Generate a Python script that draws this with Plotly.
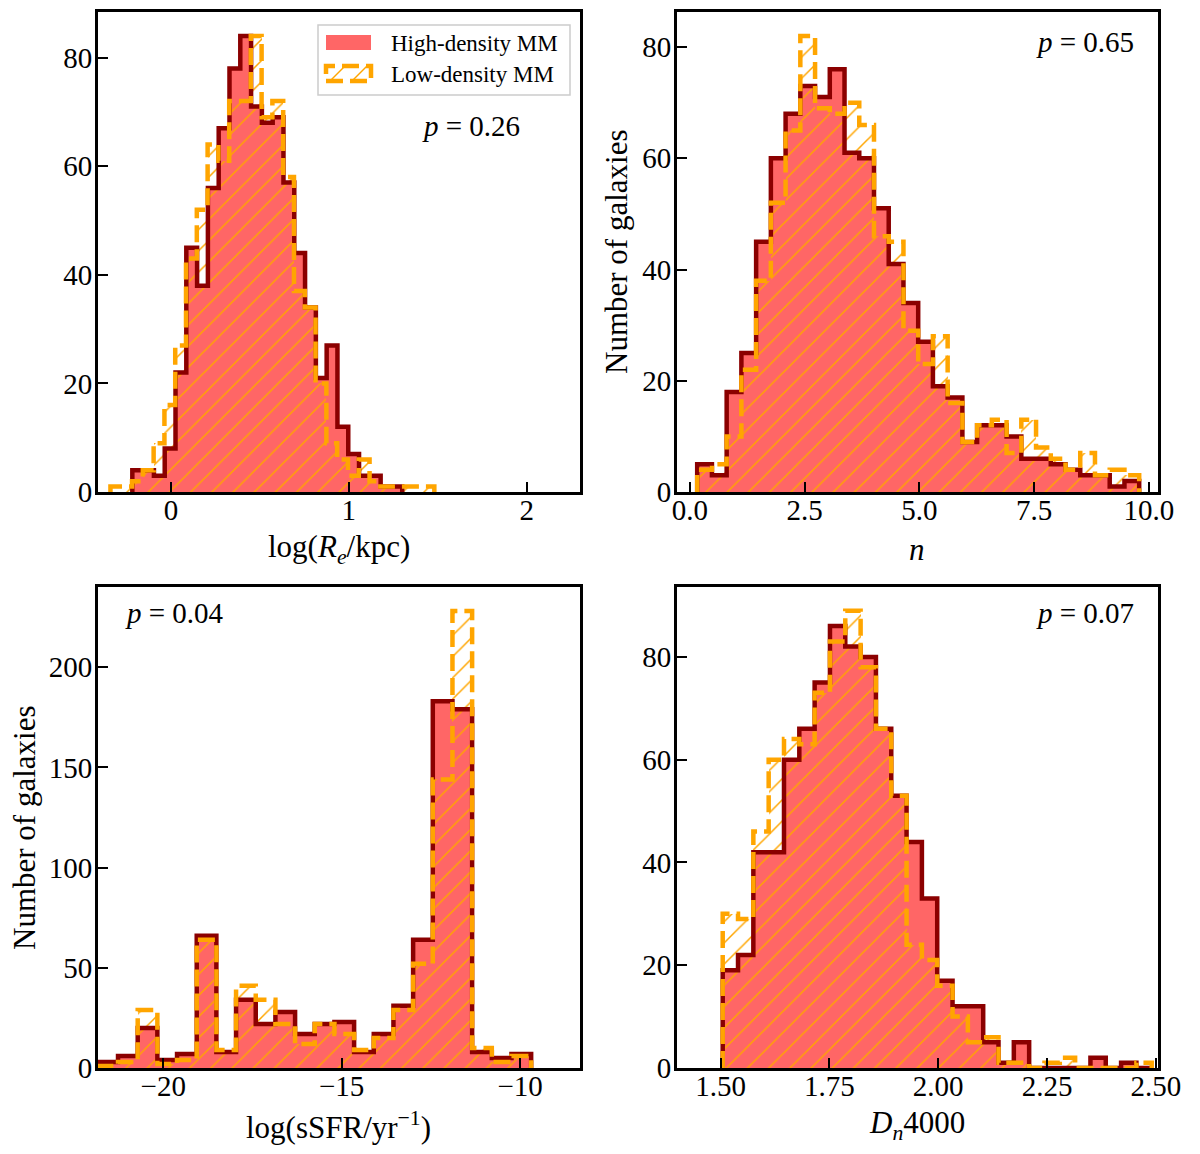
import numpy as np
import plotly.graph_objects as go

# ---------------- data ----------------
# Panel 1: log(Re/kpc)
RE_HIGH_START, RE_HIGH_WIDTH = -0.217, 0.0607
RE_HIGH_COUNTS = [4, 4, 3, 8, 22, 45, 38, 56, 67, 78, 84, 71, 68, 69, 57, 44, 34, 21, 27, 12, 7, 3, 3, 1, 1]
RE_LOW_START, RE_LOW_WIDTH = -0.340, 0.0607
RE_LOW_COUNTS = [1, 1, 2, 4, 9, 16, 27, 43, 52, 64, 61, 72, 72, 84, 69, 72, 58, 37, 34, 20, 9, 6, 3, 6, 2, 1, 1, 1, 1, 1]

# Panel 2: Sersic n
N_START, N_WIDTH = 0.16, 0.321
N_HIGH_COUNTS = [5, 3, 18, 25, 45, 60, 68, 73, 71, 76, 61, 60, 51, 41, 34, 27, 19, 17, 9, 12, 12, 10, 6, 6, 5, 4, 3, 3, 1, 2]
N_LOW_COUNTS = [4, 5, 10, 22, 38, 52, 65, 82, 69, 68, 70, 66, 46, 45, 29, 23, 28, 16, 9, 12, 13, 7, 13, 8, 6, 4, 7, 3, 4, 3]

# Panel 3: log(sSFR/yr^-1)
SSFR_START, SSFR_WIDTH = -21.82, 0.5514
SSFR_HIGH_COUNTS = [3, 6, 20, 4, 7, 66, 8, 34, 22, 28, 17, 22, 23, 8, 17, 31, 64, 183, 179, 8, 5, 7]
SSFR_LOW_COUNTS = [1, 3, 29, 2, 4, 64, 9, 41, 34, 22, 12, 22, 17, 9, 15, 29, 52, 144, 228, 10, 3, 6]

# Panel 4: Dn4000
D_START, D_WIDTH = 1.505, 0.0352
D_HIGH_COUNTS = [19, 22, 42, 42, 60, 66, 75, 86, 82, 80, 66, 53, 44, 33, 17, 12, 12, 5, 1, 5, 0, 0, 0, 0, 2, 0, 1, 0]
D_LOW_COUNTS = [30, 29, 46, 60, 64, 63, 73, 83, 89, 78, 66, 53, 24, 21, 16, 10, 5, 6, 1, 1, 0, 1, 2, 0, 0, 0, 0, 1]

P_VALUES = ["0.26", "0.65", "0.04", "0.07"]
X_TITLES = ["log(<i>R</i><sub><i>e</i></sub>/kpc)", "<i>n</i>",
            "log(sSFR/yr<sup>\u22121</sup>)", "<i>D</i><sub><i>n</i></sub>4000"]
Y_TITLE = "Number of galaxies"
LABEL_HIGH = "High-density MM"
LABEL_LOW = "Low-density MM"

# ---------------- style ----------------
FILL = "#FF6666"
DARK = "#8B0000"
ORANGE = "#FFA500"
FONT = "Liberation Serif"
W, H = 1200, 1154

# panel pixel boxes in page pixels (left, right, top, bottom)
BOXES = [(98, 580, 12, 492), (677, 1158, 12, 492),
         (98, 580, 587, 1068), (677, 1158, 587, 1068)]

panels = [
    dict(high=(RE_HIGH_START, RE_HIGH_WIDTH, RE_HIGH_COUNTS), low=(RE_LOW_START, RE_LOW_WIDTH, RE_LOW_COUNTS),
         xrange=[-0.41, 2.30], yrange=[0, 88.4], xtick=[0, 1, 2], xfmt="d", ytick=[0, 20, 40, 60, 80]),
    dict(high=(N_START, N_WIDTH, N_HIGH_COUNTS), low=(N_START, N_WIDTH, N_LOW_COUNTS),
         xrange=[-0.28, 10.2], yrange=[0, 86.3], xtick=[0, 2.5, 5, 7.5, 10], xfmt=".1f", ytick=[0, 20, 40, 60, 80]),
    dict(high=(SSFR_START, SSFR_WIDTH, SSFR_HIGH_COUNTS), low=(SSFR_START, SSFR_WIDTH, SSFR_LOW_COUNTS),
         xrange=[-21.83, -8.32], yrange=[0, 240], xtick=[-20, -15, -10], xfmt="d", ytick=[0, 50, 100, 150, 200]),
    dict(high=(D_START, D_WIDTH, D_HIGH_COUNTS), low=(D_START, D_WIDTH, D_LOW_COUNTS),
         xrange=[1.40, 2.505], yrange=[0, 93.6], xtick=[1.5, 1.75, 2.0, 2.25, 2.5], xfmt=".2f", ytick=[0, 20, 40, 60, 80]),
]


def px2paper(x, y):
    return x / W, 1 - y / H


def edges_of(start, width, counts):
    return start + width * np.arange(len(counts) + 1)


def step_xy(start, width, counts):
    e = edges_of(start, width, counts)
    x = np.repeat(e, 2)
    y = np.concatenate([[0], np.repeat(np.asarray(counts, float), 2), [0]])
    return x, y


fig = go.Figure()
layout = dict(width=W, height=H, margin=dict(l=0, r=0, t=0, b=0, pad=0, autoexpand=False),
              paper_bgcolor="white", plot_bgcolor="white", showlegend=False,
              barmode="overlay", bargap=0, font=dict(family=FONT, size=29, color="black"))

annotations = []
shapes = []

for i, p in enumerate(panels):
    k = "" if i == 0 else str(i + 1)
    xa, ya = "x" + k, "y" + k
    l, r, t, b = BOXES[i]
    xl, yb = px2paper(l, b)
    xr, yt = px2paper(r, t)

    hs, hw, hc = p["high"]
    ls, lw, lc = p["low"]
    he = edges_of(hs, hw, hc)
    le = edges_of(ls, lw, lc)

    # filled high-density histogram
    fig.add_trace(go.Bar(x=he[:-1], y=hc, width=hw, offset=0, xaxis=xa, yaxis=ya,
                         marker=dict(color=FILL, line=dict(width=0)), name=LABEL_HIGH,
                         hoverinfo="skip"))
    # hatched low-density histogram
    fig.add_trace(go.Bar(x=le[:-1], y=lc, width=lw, offset=0, xaxis=xa, yaxis=ya,
                         marker=dict(color="rgba(0,0,0,0)", line=dict(width=0),
                                     pattern=dict(shape="/", fgcolor=ORANGE, fgopacity=1,
                                                  size=15, solidity=0.1, fillmode="overlay")),
                         name=LABEL_LOW, hoverinfo="skip"))
    # step outlines
    sx, sy = step_xy(hs, hw, hc)
    fig.add_trace(go.Scatter(x=sx, y=sy, mode="lines", xaxis=xa, yaxis=ya,
                             line=dict(color=DARK, width=4.5), hoverinfo="skip"))
    sx, sy = step_xy(ls, lw, lc)
    fig.add_trace(go.Scatter(x=sx, y=sy, mode="lines", xaxis=xa, yaxis=ya,
                             line=dict(color=ORANGE, width=4.5, dash="17px,7px"), hoverinfo="skip"))

    axis_common = dict(showline=True, mirror=True, linewidth=3, linecolor="black",
                       ticks="inside", ticklen=10, tickwidth=2, tickcolor="black",
                       showgrid=False, zeroline=False, automargin=False,
                       tickfont=dict(family=FONT, size=29, color="black"))
    layout["xaxis" + k] = dict(domain=[xl, xr], range=p["xrange"], anchor=ya, tickvals=p["xtick"],
                               tickformat=p["xfmt"], ticklabelstandoff=-10, **axis_common)
    layout["yaxis" + k] = dict(domain=[yb, yt], range=p["yrange"], anchor=xa, tickvals=p["ytick"],
                               ticklabelstandoff=-3, **axis_common)

    # x title
    tx, ty = px2paper((l + r) / 2, b + 57)
    annotations.append(dict(text=X_TITLES[i], xref="paper", yref="paper",
                            x=tx, y=ty, showarrow=False,
                            xanchor="center", yanchor="middle",
                            font=dict(family=FONT, size=31, color="black")))

# y titles (panel 2 and 3)
for (yx, yy) in ((617, 252), (24, 828)):
    tx, ty = px2paper(yx, yy)
    annotations.append(dict(text=Y_TITLE, xref="paper", yref="paper", x=tx, y=ty,
                            textangle=-90, showarrow=False, xanchor="center", yanchor="middle",
                            font=dict(family=FONT, size=31, color="black")))

# p-values
P_POS = [(471, 126), (1085, 42), (174, 613), (1085, 613)]
for (px, py), pv in zip(P_POS, P_VALUES):
    tx, ty = px2paper(px, py)
    annotations.append(dict(text="<i>p</i> = " + pv, xref="paper", yref="paper",
                            x=tx, y=ty, showarrow=False, xanchor="center",
                            yanchor="middle", font=dict(family=FONT, size=29, color="black")))

# legend box in panel 1
x0, y0 = px2paper(318, 25)
x1, y1 = px2paper(570, 95)
shapes.append(dict(type="rect", xref="paper", yref="paper", x0=x0, y0=y1, x1=x1, y1=y0,
                   line=dict(color="#CCCCCC", width=1.5), fillcolor="rgba(255,255,255,0.8)", layer="above"))
# high-density patch
a0, b0 = px2paper(326, 35)
a1, b1 = px2paper(371, 50)
shapes.append(dict(type="rect", xref="paper", yref="paper", x0=a0, y0=b1, x1=a1, y1=b0,
                   line=dict(width=0), fillcolor=FILL, layer="above"))
# low-density patch (dashed hatched outline)
a0, b0 = px2paper(326, 66)
a1, b1 = px2paper(371, 81)
shapes.append(dict(type="rect", xref="paper", yref="paper", x0=a0, y0=b1, x1=a1, y1=b0,
                   line=dict(color=ORANGE, width=4.5, dash="17px,7px"), fillcolor="rgba(0,0,0,0)", layer="above"))
for sx0 in (330, 352):
    c0, d0 = px2paper(sx0, 81)
    c1, d1 = px2paper(sx0 + 15, 66)
    shapes.append(dict(type="line", xref="paper", yref="paper", x0=c0, y0=d0, x1=c1, y1=d1,
                       line=dict(color=ORANGE, width=1.5), layer="above"))
for txt, ty in ((LABEL_HIGH, 43), (LABEL_LOW, 74)):
    tx, tyy = px2paper(389, ty)
    annotations.append(dict(text=txt, xref="paper", yref="paper", x=tx, y=tyy, showarrow=False,
                            xanchor="left", yanchor="middle",
                            font=dict(family=FONT, size=23, color="black")))

layout["annotations"] = annotations
layout["shapes"] = shapes
fig.update_layout(**layout)

# remove the default page margin so the 1200x1154 figure fills the window exactly
POST = ("document.documentElement.style.margin='0';document.documentElement.style.padding='0';"
        "document.body.style.margin='0';document.body.style.padding='0';"
        "document.documentElement.style.overflow='hidden';document.body.style.overflow='hidden';")
fig.write_html("out.html", post_script=POST, config={"displayModeBar": False})
